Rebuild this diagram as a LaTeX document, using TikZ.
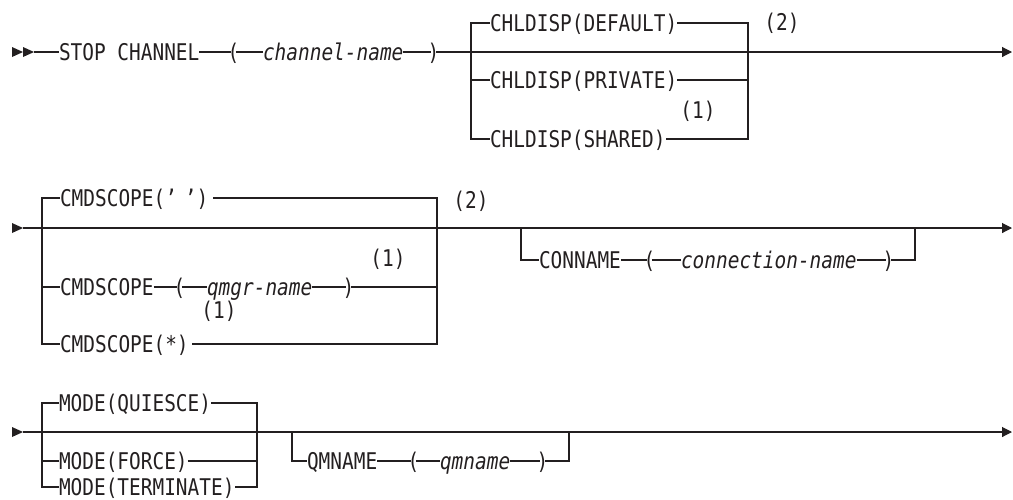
\documentclass[tikz,border=0pt]{standalone}
\usepackage{fontspec}
\newfontfamily\dm[FakeStretch=0.845]{DejaVu Sans Mono}
\usetikzlibrary{arrows.meta}
\definecolor{ink}{RGB}{35,31,32}
\begin{document}
\begin{tikzpicture}[x=1pt,y=-1pt,
  t/.style={inner sep=0pt, outer sep=0pt, anchor=west, text height=16.5pt, text depth=0pt,
            font=\dm\fontsize{23}{27}\selectfont, text=ink},
  it/.style={t, font=\dm\fontsize{23}{27}\selectfont\itshape},
  paren/.style={t, anchor=center, inner xsep=-3.5pt},
  note/.style={t, anchor=center},
  ln/.style={draw=ink, line width=1.1pt},
  arr/.style={ln, -{Triangle[length=10pt,width=10pt]}},
  startmark/.style={fill=ink, draw=none}]
\useasboundingbox (0,0) rectangle (1013,499);

% ================= Row 1 =================
\fill[startmark] (12,47) -- (23,52) -- (12,57) -- cycle;
\fill[startmark] (23,47) -- (34,52) -- (23,57) -- cycle;
\coordinate (s1) at (34,52);
\node[t] (stop) at (59,52) {STOP CHANNEL};
\node[paren] (lp1) at (233.5,52) {(};
\node[it] (cn) at (263,52) {channel-name};
\node[paren] (rp1) at (433.5,52) {)};
\coordinate (jL1) at (471,52);
\coordinate (jR1) at (748,52);
\coordinate (e1) at (1012,52);
\node[t] (def) at (490,23) {CHLDISP(DEFAULT)};
\node[t] (priv) at (490,80) {CHLDISP(PRIVATE)};
\node[t] (shar) at (490,139) {CHLDISP(SHARED)};
\node[note] (n2a) at (782,22) {(2)};
\node[note] (n1a) at (698,110) {(1)};

\draw[ln] (s1) -- (stop.west);
\draw[ln] (stop.east) -- (lp1.west);
\draw[ln] (lp1.east) -- (cn.west);
\draw[ln] (cn.east) -- (rp1.west);
\draw[arr] (rp1.east) -- (e1);
\draw[ln] (def.west) -- (def.west -| jL1) -- (shar.west -| jL1) -- (shar.west);
\draw[ln] (priv.west) -- (priv.west -| jL1);
\draw[ln] (def.east) -- (def.east -| jR1) -- (shar.east -| jR1) -- (shar.east);
\draw[ln] (priv.east) -- (priv.east -| jR1);

% ================= Row 2 =================
\fill[startmark] (12,223) -- (23,228) -- (12,233) -- cycle;
\coordinate (s2) at (23,228);
\coordinate (jL2) at (42,228);
\coordinate (jR2) at (437,228);
\coordinate (cL) at (521,228);
\coordinate (cR) at (915,228);
\coordinate (e2) at (1012,228);
\node[t] (cs1) at (60,198) {CMDSCOPE(’\hspace{8pt}’)};
\node[t] (cs2) at (60,287) {CMDSCOPE};
\node[paren] (lp2) at (179.5,287) {(};
\node[it] (qn) at (207,287) {qmgr-name};
\node[paren] (rp2) at (348.5,287) {)};
\node[t] (cs3) at (60,344) {CMDSCOPE(*)};
\node[note] (n2b) at (471,200) {(2)};
\node[note] (n1b) at (388,258) {(1)};
\node[note] (n1c) at (219,310) {(1)};
\node[t] (cnm) at (539,260) {CONNAME};
\node[paren] (lp3) at (649.5,260) {(};
\node[it] (conn) at (681,260) {connection-name};
\node[paren] (rp3) at (888.5,260) {)};

\draw[arr] (s2) -- (e2);
\draw[ln] (cs1.west) -- (cs1.west -| jL2) -- (cs3.west -| jL2) -- (cs3.west);
\draw[ln] (cs2.west) -- (cs2.west -| jL2);
\draw[ln] ([xshift=5pt]cs1.east) -- (cs1.east -| jR2) -- (cs3.east -| jR2) -- ([xshift=3pt]cs3.east);
\draw[ln] (cs2.east) -- (lp2.west);
\draw[ln] (lp2.east) -- (qn.west);
\draw[ln] (qn.east) -- (rp2.west);
\draw[ln] (rp2.east) -- (rp2.east -| jR2);
\draw[ln] (cL) -- (cnm.west -| cL) -- (cnm.west);
\draw[ln] (cnm.east) -- (lp3.west);
\draw[ln] (lp3.east) -- (conn.west);
\draw[ln] (conn.east) -- (rp3.west);
\draw[ln] (rp3.east) -- (rp3.east -| cR) -- (cR);

% ================= Row 3 =================
\fill[startmark] (12,427) -- (23,432) -- (12,437) -- cycle;
\coordinate (s3) at (23,432);
\coordinate (jL3) at (42,432);
\coordinate (jR3) at (257,432);
\coordinate (qL) at (292,432);
\coordinate (qR) at (569,432);
\coordinate (e3) at (1012,432);
\node[t] (m1) at (59,403) {MODE(QUIESCE)};
\node[t] (m2) at (59,461) {MODE(FORCE)};
\node[t] (m3) at (59,487) {MODE(TERMINATE)};
\node[t] (qm) at (307,461) {QMNAME};
\node[paren] (lp4) at (413.5,461) {(};
\node[it] (qmn) at (440,461) {qmname};
\node[paren] (rp4) at (542.5,461) {)};

\draw[arr] (s3) -- (e3);
\draw[ln] (m1.west) -- (m1.west -| jL3) -- (m3.west -| jL3) -- (m3.west);
\draw[ln] (m2.west) -- (m2.west -| jL3);
\draw[ln] (m1.east) -- (m1.east -| jR3) -- (m3.east -| jR3) -- (m3.east);
\draw[ln] (m2.east) -- (m2.east -| jR3);
\draw[ln] (qL) -- (qm.west -| qL) -- (qm.west);
\draw[ln] (qm.east) -- (lp4.west);
\draw[ln] (lp4.east) -- (qmn.west);
\draw[ln] (qmn.east) -- (rp4.west);
\draw[ln] (rp4.east) -- (rp4.east -| qR) -- (qR);
\end{tikzpicture}
\end{document}
